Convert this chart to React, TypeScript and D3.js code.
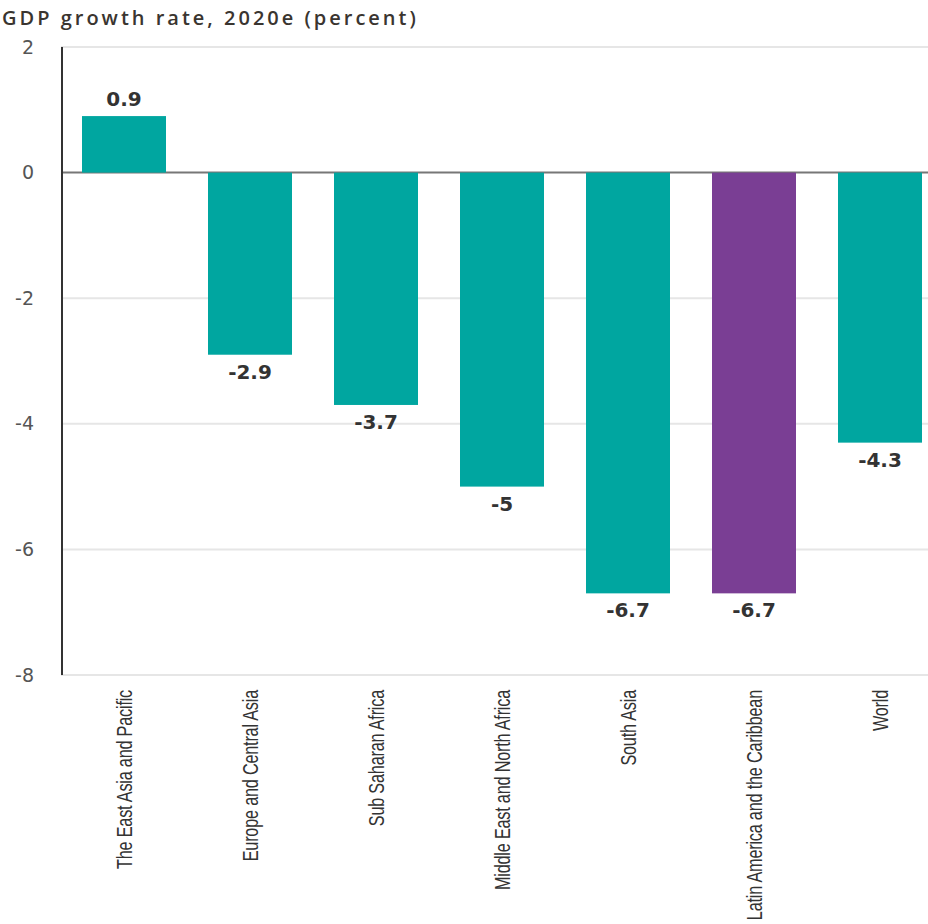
import React from 'react';
import * as d3 from 'd3';

const regions = [
  'The East Asia and Pacific',
  'Europe and Central Asia',
  'Sub Saharan Africa',
  'Middle East and North Africa',
  'South Asia',
  'Latin America and the Caribbean',
  'World',
];
const growth = [0.9, -2.9, -3.7, -5, -6.7, -6.7, -4.3];
const highlighted = ['Latin America and the Caribbean'];
const yTicks = [2, 0, -2, -4, -6, -8];

const width = 928;
const height = 924;

const App = () => {
  const x = d3.scaleBand<string>()
    .domain(regions)
    .range([61, 943])
    .paddingInner(1 / 3)
    .paddingOuter(1 / 6);

  const y = d3.scaleLinear().domain([-8, 2]).range([675, 47]);

  return (
    <svg width={width} height={height} style={{ position: 'absolute', left: 0, top: 0, background: '#fff' }}>
      {/* title, stretched to the reference width */}
      <text x={2} y={25} fontFamily="'Open Sans', sans-serif" fontWeight={600} fontSize={20} fill="#3a3530"
        style={{ letterSpacing: '3px' }}>
        GDP growth rate, 2020e (percent)
      </text>

      {/* gridlines */}
      {yTicks.map((t) => (
        <line key={'g' + t} x1={61} x2={width} y1={y(t)} y2={y(t)}
          stroke={t === 0 ? '#777' : '#e6e6e6'} strokeWidth={2} />
      ))}

      {yTicks.map((t) => (
        <text key={'t' + t} x={34} y={y(t)} dy="0.35em" textAnchor="end"
          fontFamily="'DejaVu Sans', sans-serif" fontSize={19} fill="#555">
          {t}
        </text>
      ))}

      {regions.map((r, i) => {
        const v = growth[i];
        const y0 = y(Math.max(0, v));
        const y1 = y(Math.min(0, v));
        return (
          <rect key={r} x={x(r)} y={y0} width={x.bandwidth()} height={y1 - y0}
            fill={highlighted.includes(r) ? '#7a3e94' : '#00a6a0'} />
        );
      })}

      <line x1={62} x2={62} y1={47} y2={675} stroke="#333" strokeWidth={2} />

      {regions.map((r, i) => {
        const v = growth[i];
        const cx = (x(r) as number) + x.bandwidth() / 2;
        const ly = v >= 0 ? y(v) - 10 : y(v) + 24;
        return (
          <text key={'v' + r} x={cx} y={ly} textAnchor="middle"
            fontFamily="'DejaVu Sans', sans-serif" fontWeight="bold" fontSize={20} fill="#333">
            {v}
          </text>
        );
      })}

      {regions.map((r) => {
        const cx = (x(r) as number) + x.bandwidth() / 2;
        return (
          <text key={'l' + r} transform={`translate(${cx},690) rotate(-90) scale(0.74,1)`} textAnchor="end" dy="0.35em"
            fontFamily="'Liberation Sans', Arial, sans-serif" fontSize={22}
            style={{ letterSpacing: '-0.3px' }} fill="#333">
            {r}
          </text>
        );
      })}
    </svg>
  );
};

export default App;
